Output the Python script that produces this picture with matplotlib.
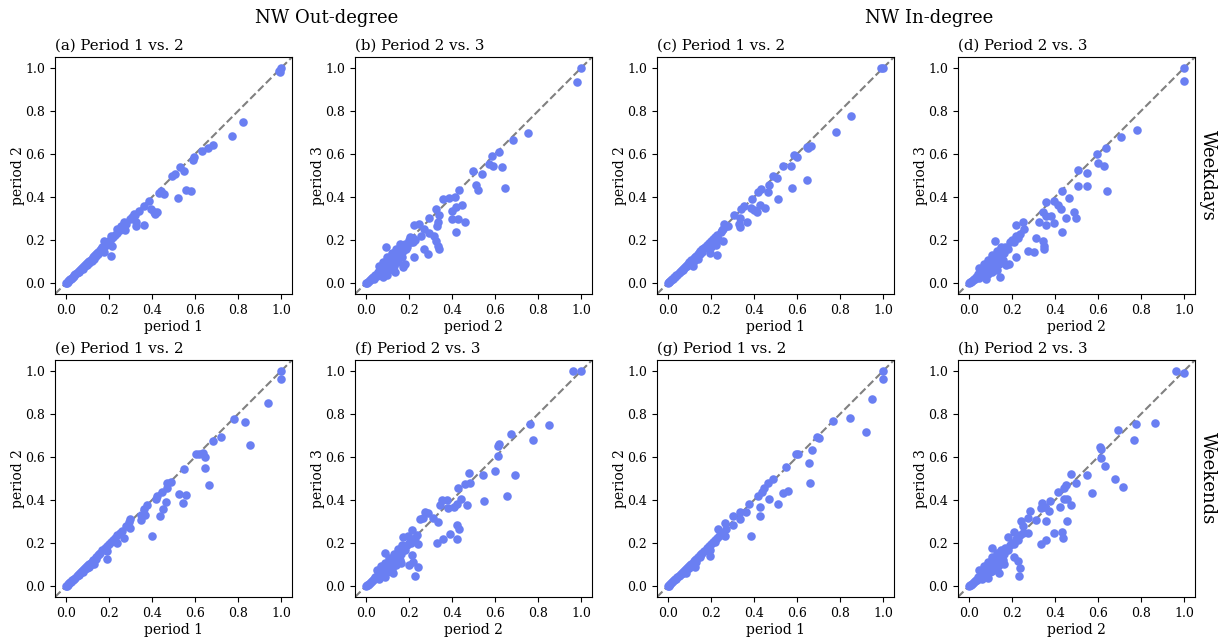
import numpy as np
import matplotlib.pyplot as plt

plt.rcParams['font.family'] = 'DejaVu Serif'

# --- data: (x, y) per point, one list per panel ---

# dense part near the origin, weekdays out-degree
a_pts = [(0.0, 0.0), (0.004, 0.003), (0.008, 0.007), (0.012, 0.01), (0.015, 0.013), (0.02, 0.018),
         (0.024, 0.021), (0.028, 0.026), (0.032, 0.028), (0.036, 0.034), (0.04, 0.036), (0.045, 0.041),
         (0.05, 0.047), (0.055, 0.05), (0.06, 0.057), (0.065, 0.06), (0.07, 0.066), (0.075, 0.07),
         (0.08, 0.074), (0.085, 0.081), (0.09, 0.085), (0.095, 0.088), (0.1, 0.096), (0.105, 0.1),
         (0.11, 0.103), (0.115, 0.11), (0.12, 0.113), (0.125, 0.12), (0.13, 0.126), (0.135, 0.129),
         (0.14, 0.134), (0.145, 0.14), (0.15, 0.146), (0.16, 0.154), (0.165, 0.16), (0.17, 0.166),
         (0.18, 0.174), (0.19, 0.186), (0.2, 0.195), (0.21, 0.205), (0.22, 0.214), (0.23, 0.226),
         (0.24, 0.234), (0.25, 0.245), (0.26, 0.256), (0.28, 0.276), (0.3, 0.296), (0.32, 0.318),
         (0.06, 0.05), (0.09, 0.078), (0.11, 0.095), (0.13, 0.112), (0.15, 0.135), (0.1, 0.085),
         (0.12, 0.105), (0.08, 0.068), (0.14, 0.125), (0.17, 0.155),
         (0.208, 0.221), (0.177, 0.198), (0.216, 0.175), (0.208, 0.128), (0.177, 0.144),
         (0.27, 0.283), (0.255, 0.268), (0.239, 0.252), (0.273, 0.248),
         (0.324, 0.286), (0.324, 0.265), (0.363, 0.272), (0.34, 0.337), (0.316, 0.322), (0.309, 0.307),
         (0.386, 0.384), (0.394, 0.345), (0.409, 0.333), (0.424, 0.33), (0.412, 0.322), (0.363, 0.358),
         (0.44, 0.43), (0.432, 0.42), (0.455, 0.416), (0.559, 0.433), (0.579, 0.426), (0.522, 0.395),
         (0.532, 0.539), (0.548, 0.519), (0.509, 0.508), (0.494, 0.497), (0.597, 0.585), (0.591, 0.57),
         (0.682, 0.642), (0.659, 0.627), (0.633, 0.613), (0.772, 0.683), (0.822, 0.749),
         (1.0, 1.0), (0.995, 0.98), (0.99, 0.985)]

b_pts = [(0.0, 0.0), (0.005, 0.003), (0.01, 0.006), (0.015, 0.012), (0.02, 0.014), (0.025, 0.02),
         (0.03, 0.024), (0.035, 0.03), (0.04, 0.028), (0.045, 0.04), (0.05, 0.035), (0.055, 0.05),
         (0.06, 0.045), (0.065, 0.06), (0.07, 0.05), (0.075, 0.07), (0.08, 0.062), (0.085, 0.08),
         (0.09, 0.07), (0.095, 0.09), (0.1, 0.078), (0.105, 0.1), (0.11, 0.09), (0.115, 0.11),
         (0.12, 0.1), (0.125, 0.12), (0.13, 0.108), (0.135, 0.13), (0.14, 0.12), (0.145, 0.14),
         (0.15, 0.13), (0.155, 0.15), (0.16, 0.16), (0.165, 0.14), (0.17, 0.17), (0.175, 0.15),
         (0.18, 0.18), (0.19, 0.17), (0.2, 0.2), (0.21, 0.19), (0.22, 0.21), (0.23, 0.2),
         (0.06, 0.08), (0.08, 0.1), (0.1, 0.12), (0.12, 0.14), (0.14, 0.16), (0.16, 0.18),
         (0.04, 0.02), (0.07, 0.04), (0.09, 0.05), (0.11, 0.06), (0.13, 0.08), (0.12, 0.065),
         (0.1, 0.04), (0.15, 0.1), (0.17, 0.12), (0.08, 0.03),
         (0.203, 0.214), (0.218, 0.19), (0.187, 0.159), (0.18, 0.09), (0.172, 0.074), (0.134, 0.051),
         (0.141, 0.128), (0.095, 0.167),
         (0.226, 0.272), (0.249, 0.276), (0.272, 0.252), (0.292, 0.234), (0.257, 0.221),
         (0.318, 0.221), (0.326, 0.198), (0.333, 0.175), (0.341, 0.159),
         (0.272, 0.159), (0.287, 0.136), (0.226, 0.121),
         (0.326, 0.345), (0.341, 0.317), (0.295, 0.302), (0.333, 0.283), (0.329, 0.268),
         (0.359, 0.389), (0.387, 0.395), (0.415, 0.399), (0.445, 0.361), (0.418, 0.353), (0.402, 0.337),
         (0.398, 0.296), (0.43, 0.299), (0.461, 0.286), (0.418, 0.237), (0.433, 0.433),
         (0.51, 0.457), (0.522, 0.433), (0.644, 0.443),
         (0.499, 0.523), (0.541, 0.508), (0.571, 0.554), (0.59, 0.543), (0.63, 0.539),
         (0.617, 0.608), (0.584, 0.593), (0.684, 0.663), (0.751, 0.698),
         (1.0, 1.0), (0.978, 0.933)]

c_pts = [(0.0, 0.0), (0.004, 0.004), (0.008, 0.006), (0.012, 0.011), (0.016, 0.014), (0.02, 0.019),
         (0.025, 0.022), (0.03, 0.028), (0.035, 0.031), (0.04, 0.038), (0.045, 0.04), (0.05, 0.048),
         (0.055, 0.05), (0.06, 0.057), (0.065, 0.06), (0.07, 0.068), (0.075, 0.07), (0.08, 0.077),
         (0.085, 0.08), (0.09, 0.087), (0.095, 0.09), (0.1, 0.097), (0.105, 0.1), (0.11, 0.107),
         (0.115, 0.11), (0.12, 0.118), (0.125, 0.12), (0.13, 0.127), (0.14, 0.137), (0.145, 0.14),
         (0.15, 0.148), (0.16, 0.157), (0.17, 0.165), (0.175, 0.17), (0.18, 0.178), (0.19, 0.186),
         (0.2, 0.196), (0.21, 0.205), (0.22, 0.216), (0.23, 0.225), (0.25, 0.245), (0.27, 0.267),
         (0.07, 0.06), (0.1, 0.088), (0.12, 0.105), (0.15, 0.135), (0.09, 0.08), (0.16, 0.145),
         (0.117, 0.082), (0.14, 0.113),
         (0.255, 0.195), (0.232, 0.206), (0.224, 0.178), (0.194, 0.141), (0.229, 0.133), (0.201, 0.167),
         (0.278, 0.268), (0.263, 0.276), (0.255, 0.252), (0.247, 0.237),
         (0.352, 0.358), (0.339, 0.345), (0.309, 0.317), (0.336, 0.302), (0.37, 0.283), (0.336, 0.263),
         (0.329, 0.276), (0.389, 0.389), (0.386, 0.348), (0.398, 0.342), (0.416, 0.33), (0.452, 0.348),
         (0.429, 0.365), (0.47, 0.458), (0.435, 0.438), (0.419, 0.423), (0.467, 0.423),
         (0.578, 0.444), (0.511, 0.389), (0.49, 0.5), (0.508, 0.488), (0.647, 0.481),
         (0.536, 0.546), (0.57, 0.543), (0.588, 0.596), (0.601, 0.585),
         (0.667, 0.636), (0.65, 0.627), (0.644, 0.632), (0.782, 0.703), (0.849, 0.777),
         (0.99, 1.0), (1.0, 1.0)]

d_pts = [(0.0, 0.0), (0.005, 0.004), (0.01, 0.007), (0.015, 0.012), (0.02, 0.015), (0.025, 0.02),
         (0.03, 0.022), (0.035, 0.03), (0.04, 0.03), (0.045, 0.042), (0.05, 0.038), (0.055, 0.05),
         (0.06, 0.045), (0.065, 0.062), (0.07, 0.05), (0.075, 0.072), (0.08, 0.06), (0.085, 0.082),
         (0.09, 0.07), (0.095, 0.092), (0.1, 0.08), (0.105, 0.1), (0.11, 0.09), (0.115, 0.112),
         (0.12, 0.1), (0.125, 0.122), (0.13, 0.11), (0.135, 0.13), (0.14, 0.12), (0.145, 0.142),
         (0.15, 0.13), (0.155, 0.15), (0.16, 0.16), (0.165, 0.14), (0.17, 0.17), (0.18, 0.16),
         (0.19, 0.19), (0.2, 0.2), (0.21, 0.19), (0.22, 0.22), (0.23, 0.21), (0.24, 0.23),
         (0.05, 0.07), (0.07, 0.09), (0.09, 0.11), (0.11, 0.13), (0.13, 0.15), (0.15, 0.17),
         (0.05, 0.025), (0.07, 0.035), (0.09, 0.045), (0.1, 0.06), (0.12, 0.07), (0.14, 0.09),
         (0.16, 0.11), (0.08, 0.02), (0.11, 0.05), (0.13, 0.06),
         (0.189, 0.09), (0.174, 0.085), (0.143, 0.028), (0.12, 0.195),
         (0.22, 0.271), (0.25, 0.283), (0.258, 0.252),
         (0.312, 0.209), (0.343, 0.198), (0.35, 0.175), (0.35, 0.159),
         (0.276, 0.152), (0.301, 0.144), (0.22, 0.121),
         (0.343, 0.333), (0.358, 0.314), (0.381, 0.314), (0.327, 0.286), (0.358, 0.272), (0.396, 0.279),
         (0.358, 0.376), (0.396, 0.384), (0.427, 0.345), (0.412, 0.365),
         (0.488, 0.333), (0.496, 0.305), (0.45, 0.302), (0.432, 0.24),
         (0.435, 0.427), (0.465, 0.396), (0.507, 0.45), (0.55, 0.45), (0.642, 0.427),
         (0.599, 0.559), (0.63, 0.546), (0.55, 0.512), (0.507, 0.528),
         (0.637, 0.628), (0.596, 0.598), (0.708, 0.678), (0.779, 0.712),
         (1.0, 1.0), (1.0, 0.941)]

e_pts = [(0.0, 0.0), (0.004, 0.003), (0.008, 0.007), (0.012, 0.01), (0.016, 0.014), (0.02, 0.018),
         (0.025, 0.022), (0.03, 0.027), (0.035, 0.031), (0.04, 0.036), (0.045, 0.04), (0.05, 0.046),
         (0.055, 0.05), (0.06, 0.055), (0.065, 0.06), (0.07, 0.065), (0.075, 0.07), (0.08, 0.074),
         (0.085, 0.08), (0.09, 0.084), (0.095, 0.09), (0.1, 0.094), (0.105, 0.1), (0.11, 0.104),
         (0.115, 0.11), (0.12, 0.114), (0.125, 0.12), (0.13, 0.124), (0.14, 0.135), (0.15, 0.145),
         (0.155, 0.15), (0.16, 0.156), (0.17, 0.166), (0.18, 0.176), (0.19, 0.186), (0.2, 0.196),
         (0.21, 0.206), (0.22, 0.215), (0.23, 0.226), (0.24, 0.236), (0.25, 0.246), (0.26, 0.256),
         (0.06, 0.05), (0.08, 0.068), (0.1, 0.085), (0.12, 0.105), (0.14, 0.125), (0.09, 0.078),
         (0.131, 0.103), (0.108, 0.088), (0.193, 0.165), (0.19, 0.128),
         (0.298, 0.312), (0.293, 0.296), (0.278, 0.278), (0.298, 0.269), (0.27, 0.222), (0.239, 0.201),
         (0.378, 0.377), (0.363, 0.358), (0.367, 0.332), (0.347, 0.307), (0.35, 0.33), (0.401, 0.231),
         (0.463, 0.392), (0.452, 0.358), (0.435, 0.327),
         (0.471, 0.478), (0.489, 0.485), (0.471, 0.458), (0.448, 0.438), (0.424, 0.42), (0.417, 0.404),
         (0.525, 0.43), (0.556, 0.424), (0.542, 0.386), (0.548, 0.546),
         (0.602, 0.616), (0.62, 0.616), (0.636, 0.617), (0.645, 0.6), (0.648, 0.549), (0.665, 0.471),
         (0.722, 0.691), (0.684, 0.674), (0.782, 0.775), (0.83, 0.764), (0.853, 0.656), (0.937, 0.849),
         (1.0, 1.0), (1.0, 0.963)]

f_pts = [(0.0, 0.0), (0.005, 0.004), (0.01, 0.008), (0.015, 0.012), (0.02, 0.015), (0.025, 0.021),
         (0.03, 0.024), (0.035, 0.031), (0.04, 0.032), (0.045, 0.042), (0.05, 0.04), (0.055, 0.052),
         (0.06, 0.048), (0.065, 0.062), (0.07, 0.055), (0.075, 0.072), (0.08, 0.065), (0.085, 0.082),
         (0.09, 0.075), (0.095, 0.092), (0.1, 0.085), (0.105, 0.102), (0.11, 0.095), (0.115, 0.112),
         (0.12, 0.105), (0.125, 0.125), (0.13, 0.115), (0.135, 0.135), (0.14, 0.125), (0.145, 0.145),
         (0.15, 0.14), (0.155, 0.155), (0.16, 0.165), (0.165, 0.15), (0.17, 0.175), (0.18, 0.17),
         (0.19, 0.19), (0.2, 0.2), (0.21, 0.2), (0.22, 0.22), (0.23, 0.225), (0.24, 0.24),
         (0.05, 0.075), (0.07, 0.095), (0.09, 0.11), (0.11, 0.13), (0.13, 0.15), (0.15, 0.175),
         (0.17, 0.19), (0.06, 0.035), (0.08, 0.05), (0.1, 0.065), (0.12, 0.08), (0.14, 0.1),
         (0.16, 0.12), (0.09, 0.045), (0.11, 0.07),
         (0.09, 0.154), (0.125, 0.062),
         (0.213, 0.145), (0.221, 0.111), (0.201, 0.1), (0.244, 0.088), (0.228, 0.049), (0.164, 0.106),
         (0.252, 0.31), (0.216, 0.261), (0.244, 0.196), (0.194, 0.235), (0.174, 0.23),
         (0.275, 0.343), (0.29, 0.338), (0.267, 0.319), (0.313, 0.319), (0.333, 0.296),
         (0.421, 0.284), (0.432, 0.265), (0.39, 0.242), (0.421, 0.218), (0.36, 0.219), (0.33, 0.199),
         (0.355, 0.4), (0.375, 0.4), (0.344, 0.378), (0.383, 0.363), (0.41, 0.366), (0.423, 0.384),
         (0.656, 0.42), (0.548, 0.395), (0.471, 0.378),
         (0.483, 0.481), (0.46, 0.474), (0.426, 0.454), (0.441, 0.407),
         (0.599, 0.535), (0.694, 0.517), (0.545, 0.517), (0.478, 0.526),
         (0.617, 0.659), (0.614, 0.653), (0.614, 0.605), (0.676, 0.708),
         (0.764, 0.755), (0.849, 0.747), (0.776, 0.679),
         (0.961, 1.0), (1.0, 0.997)]

g_pts = [(0.0, 0.0), (0.004, 0.003), (0.008, 0.007), (0.012, 0.01), (0.016, 0.014), (0.02, 0.018),
         (0.025, 0.023), (0.03, 0.027), (0.035, 0.032), (0.04, 0.036), (0.045, 0.042), (0.05, 0.046),
         (0.055, 0.051), (0.06, 0.056), (0.065, 0.06), (0.07, 0.066), (0.075, 0.07), (0.08, 0.075),
         (0.085, 0.08), (0.09, 0.085), (0.095, 0.09), (0.1, 0.095), (0.105, 0.1), (0.11, 0.105),
         (0.115, 0.11), (0.12, 0.115), (0.125, 0.12), (0.13, 0.125), (0.14, 0.135), (0.15, 0.145),
         (0.155, 0.15), (0.16, 0.156), (0.17, 0.165), (0.18, 0.176), (0.19, 0.185), (0.2, 0.196),
         (0.21, 0.205), (0.22, 0.215), (0.23, 0.226), (0.24, 0.235), (0.25, 0.246), (0.27, 0.266),
         (0.07, 0.06), (0.09, 0.078), (0.11, 0.095), (0.13, 0.112), (0.15, 0.135), (0.1, 0.085),
         (0.127, 0.088), (0.083, 0.062), (0.196, 0.168), (0.196, 0.139),
         (0.266, 0.295), (0.235, 0.265), (0.266, 0.234), (0.219, 0.207),
         (0.335, 0.343), (0.363, 0.346), (0.301, 0.326), (0.335, 0.31), (0.304, 0.284), (0.386, 0.231),
         (0.379, 0.381), (0.428, 0.367), (0.428, 0.326),
         (0.487, 0.497), (0.467, 0.477), (0.448, 0.455), (0.436, 0.438), (0.417, 0.42),
         (0.533, 0.434), (0.56, 0.441), (0.471, 0.406), (0.513, 0.381), (0.549, 0.552),
         (0.671, 0.633), (0.606, 0.616), (0.595, 0.613), (0.657, 0.571), (0.66, 0.477),
         (0.691, 0.693), (0.703, 0.688), (0.765, 0.767), (0.845, 0.779), (0.918, 0.718), (0.946, 0.867),
         (1.0, 1.0), (0.997, 0.963)]

h_pts = [(0.0, 0.0), (0.005, 0.004), (0.01, 0.007), (0.015, 0.012), (0.02, 0.015), (0.025, 0.021),
         (0.03, 0.024), (0.035, 0.031), (0.04, 0.031), (0.045, 0.043), (0.05, 0.04), (0.055, 0.053),
         (0.06, 0.047), (0.065, 0.063), (0.07, 0.055), (0.075, 0.073), (0.08, 0.064), (0.085, 0.083),
         (0.09, 0.074), (0.095, 0.093), (0.1, 0.085), (0.105, 0.103), (0.11, 0.095), (0.115, 0.113),
         (0.12, 0.104), (0.125, 0.124), (0.13, 0.115), (0.135, 0.134), (0.14, 0.125), (0.145, 0.146),
         (0.15, 0.135), (0.155, 0.156), (0.16, 0.165), (0.165, 0.15), (0.17, 0.176), (0.18, 0.17),
         (0.19, 0.19), (0.2, 0.2), (0.21, 0.195), (0.22, 0.22), (0.23, 0.215), (0.24, 0.24),
         (0.05, 0.075), (0.07, 0.095), (0.09, 0.112), (0.11, 0.135), (0.13, 0.155), (0.15, 0.17),
         (0.06, 0.035), (0.08, 0.05), (0.1, 0.065), (0.12, 0.08), (0.14, 0.1), (0.16, 0.12),
         (0.09, 0.04), (0.11, 0.07), (0.13, 0.085),
         (0.108, 0.177), (0.211, 0.137), (0.227, 0.119), (0.165, 0.103), (0.239, 0.085), (0.231, 0.049),
         (0.139, 0.062),
         (0.211, 0.253), (0.253, 0.245), (0.277, 0.245), (0.18, 0.227),
         (0.284, 0.35), (0.273, 0.315), (0.242, 0.304), (0.253, 0.278), (0.314, 0.309), (0.357, 0.304),
         (0.396, 0.247), (0.431, 0.25), (0.438, 0.224), (0.334, 0.196), (0.357, 0.216),
         (0.378, 0.395), (0.339, 0.387), (0.354, 0.367), (0.373, 0.349), (0.334, 0.364),
         (0.458, 0.407), (0.442, 0.407), (0.476, 0.378), (0.422, 0.37), (0.458, 0.304), (0.57, 0.434),
         (0.473, 0.523), (0.499, 0.478), (0.45, 0.471), (0.442, 0.454), (0.416, 0.438),
         (0.547, 0.515), (0.678, 0.497), (0.715, 0.461),
         (0.607, 0.648), (0.615, 0.636), (0.615, 0.597), (0.632, 0.556),
         (0.692, 0.725), (0.778, 0.752), (0.866, 0.758), (0.766, 0.679),
         (0.961, 1.0), (1.0, 0.988)]

panels = [
    (a_pts, '(a) Period 1 vs. 2', 'period 1', 'period 2'),
    (b_pts, '(b) Period 2 vs. 3', 'period 2', 'period 3'),
    (c_pts, '(c) Period 1 vs. 2', 'period 1', 'period 2'),
    (d_pts, '(d) Period 2 vs. 3', 'period 2', 'period 3'),
    (e_pts, '(e) Period 1 vs. 2', 'period 1', 'period 2'),
    (f_pts, '(f) Period 2 vs. 3', 'period 2', 'period 3'),
    (g_pts, '(g) Period 1 vs. 2', 'period 1', 'period 2'),
    (h_pts, '(h) Period 2 vs. 3', 'period 2', 'period 3'),
]

dot_color = '#6a7ff2'
ticks = [0.0, 0.2, 0.4, 0.6, 0.8, 1.0]

fig = plt.figure(figsize=(12.25, 6.41), dpi=100)

lefts = [0.0449, 0.2898, 0.5363, 0.782]
bottoms = [0.5413, 0.0686]
w, h = 0.1935, 0.3697

for i, (pts, title, xl, yl) in enumerate(panels):
    ax = fig.add_axes([lefts[i % 4], bottoms[i // 4], w, h])
    pts = np.array(pts)
    ax.plot([-0.05, 1.05], [-0.05, 1.05], ls='--', color='gray', lw=1.5, zorder=1)
    ax.scatter(pts[:, 0], pts[:, 1], s=38, color=dot_color, linewidths=0, zorder=2)
    ax.set_xlim(-0.05, 1.05)
    ax.set_ylim(-0.05, 1.05)
    ax.set_xticks(ticks)
    ax.set_yticks(ticks)
    ax.tick_params(labelsize=9)
    ax.set_title(title, loc='left', fontsize=10.8, pad=5)
    ax.set_xlabel(xl, fontsize=10, labelpad=2)
    ax.set_ylabel(yl, fontsize=10, labelpad=0)

# column headers and row labels
fig.text(0.2666, 0.972, 'NW Out-degree', ha='center', va='center', fontsize=13)
fig.text(0.7588, 0.972, 'NW In-degree', ha='center', va='center', fontsize=13)
fig.text(0.986, 0.7262, 'Weekdays', ha='center', va='center', rotation=270, fontsize=13)
fig.text(0.986, 0.2535, 'Weekends', ha='center', va='center', rotation=270, fontsize=13)

fig.savefig('out.png', dpi=100)
